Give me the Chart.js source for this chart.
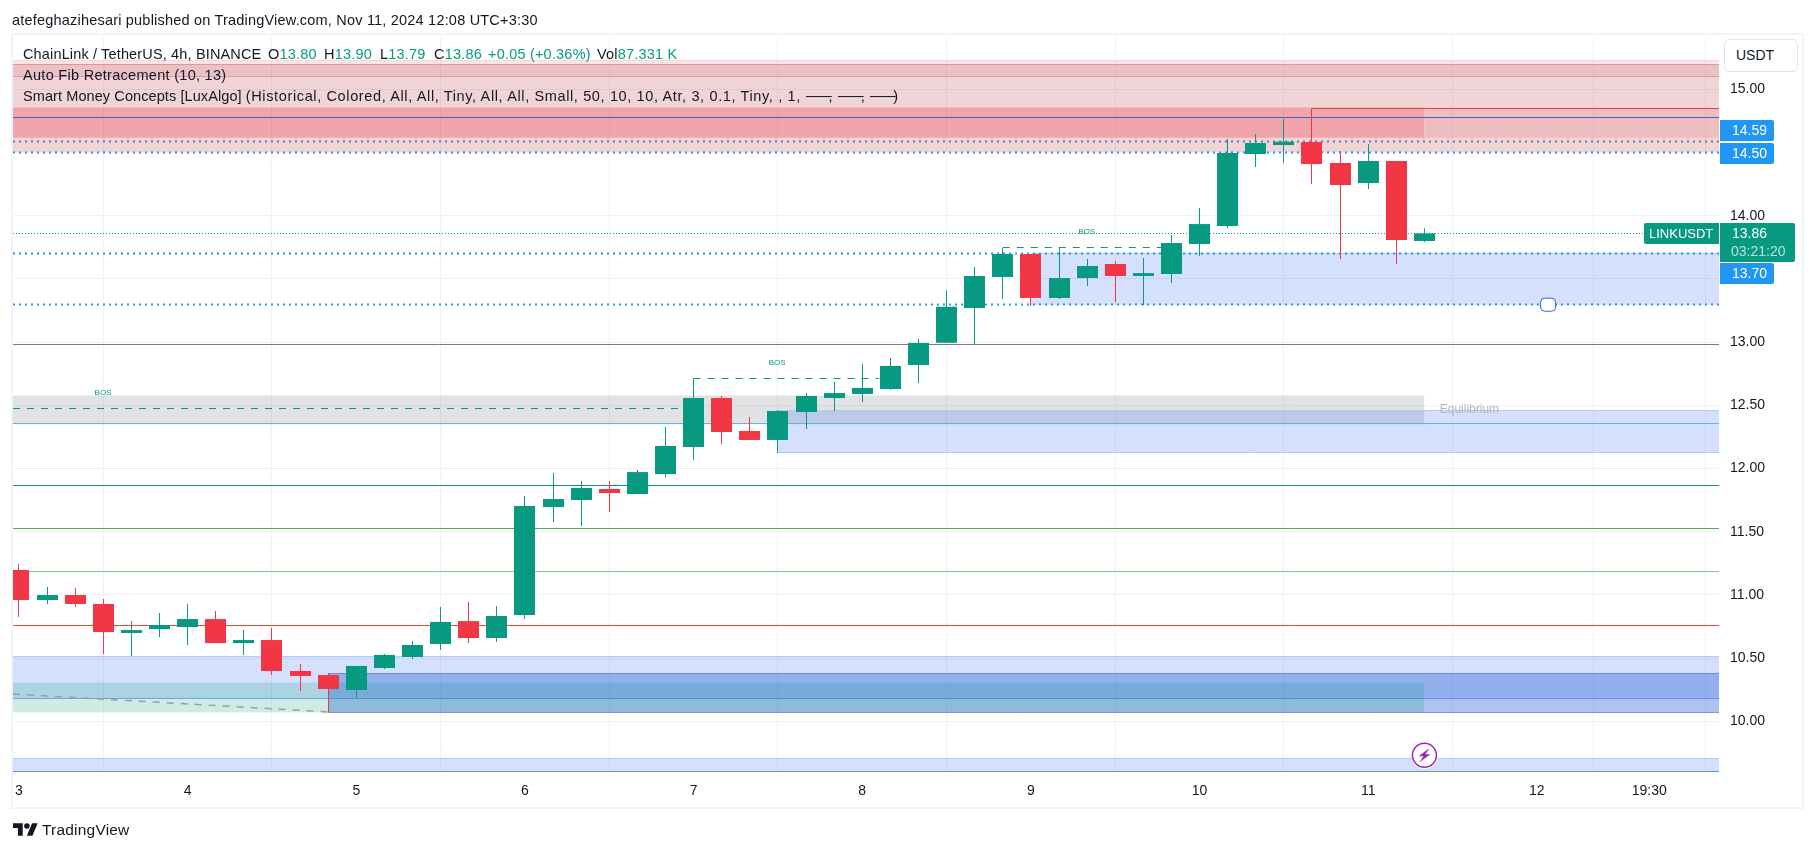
<!DOCTYPE html>
<html>
<head>
<meta charset="utf-8">
<title>LINKUSDT 4h</title>
<script src="https://cdn.jsdelivr.net/npm/chart.js@4/dist/chart.umd.min.js"></script>
<style>
    html, body { margin: 0; padding: 0; background: #fff; }
    body { width: 1814px; height: 851px; position: relative; overflow: hidden; font-family: "Liberation Sans", sans-serif; color: #131722; }
    #frame { position: absolute; left: 11px; top: 33px; width: 1789px; height: 772px; border: 2px solid #f0f3fa; }
    canvas { position: absolute; left: 0; top: 0; }
    .txt { position: absolute; white-space: nowrap; font-size: 14.5px; line-height: 16px; letter-spacing: 0.2px; }
    .wide { letter-spacing: 0.29px; }
    .name { letter-spacing: 0.09px; }
    .args { letter-spacing: 0.63px; }
    .rule { display: inline-block; width: 23px; letter-spacing: 0; transform: scaleX(1.25); transform-origin: left center; }
    .up { color: #089981; }
    #usdt { position: absolute; left: 1724px; top: 39px; width: 72px; height: 31px; border: 1px solid #e0e3eb; border-radius: 5px; background: #fff; font-size: 14px; line-height: 31px; text-indent: 11px; }
    #logo { position: absolute; left: 13px; top: 823px; }
</style>
</head>
<body>
<div id="frame"></div>
<canvas id="chart" width="1814" height="851"></canvas>
<div class="txt" style="left:12px;top:12px">atefeghazihesari published on TradingView.com, Nov 11, 2024 12:08 UTC+3:30</div>
<div class="txt" style="left:23px;top:46px;letter-spacing:0.15px">ChainLink / TetherUS, 4h, BINANCE</div>
<div class="txt" style="left:268px;top:46px">O<span class="up">13.80</span></div>
<div class="txt" style="left:324px;top:46px">H<span class="up">13.90</span></div>
<div class="txt" style="left:380px;top:46px">L<span class="up">13.79</span></div>
<div class="txt" style="left:434px;top:46px">C<span class="up">13.86</span></div>
<div class="txt up" style="left:488px;top:46px">+0.05 (+0.36%)</div>
<div class="txt" style="left:597px;top:46px">Vol<span class="up">87.331 K</span></div>
<div class="txt wide" style="left:23px;top:67px">Auto Fib Retracement (10, 13)</div>
<div class="txt" style="left:23px;top:88px"><span class="name">Smart Money Concepts [LuxAlgo] </span><span class="args">(Historical, Colored, All, All, Tiny, All, All, Small, 50, 10, 10, Atr, 3, 0.1, Tiny, , 1, <span class="rule">──</span>, <span class="rule">──</span>, <span class="rule">──</span>)</span></div>
<div id="usdt">USDT</div>
<svg id="logo" width="25" height="13" viewBox="0 4 36 18"><path fill="#131722" d="M14 22H7V11H0V4h14v18zM28 22h-8l7.5-18h8L28 22z"/><circle fill="#131722" cx="20" cy="8" r="4"/></svg>
<div class="txt" style="left:42px;top:822px;font-size:15.5px">TradingView</div>
<script>
// candles (index 0 = start of the 3rd, 6 candles a day)
const opens = [11.197, 10.960, 10.999, 10.928, 10.699, 10.730, 10.746, 10.809, 10.619, 10.643, 10.398, 10.366, 10.248, 10.422, 10.509, 10.612, 10.793, 10.659,
    10.841, 11.695, 11.751, 11.838, 11.798, 11.956, 12.170, 12.558, 12.297, 12.226, 12.447, 12.558, 12.590, 12.629, 12.819, 12.995, 13.270, 13.515, 13.697,
    13.349, 13.507, 13.618, 13.523, 13.539, 13.776, 13.918, 14.488, 14.559, 14.583, 14.417, 14.259, 14.433, 13.80];
const highs = [11.244, 11.062, 11.055, 10.968, 10.794, 10.857, 10.928, 10.873, 10.722, 10.738, 10.453, 10.380, 10.438, 10.532, 10.635, 10.904, 10.944, 10.912,
    11.782, 11.964, 11.901, 11.901, 11.988, 12.328, 12.713, 12.574, 12.407, 12.463, 12.597, 12.684, 12.827, 12.874, 13.025, 13.41, 13.594, 13.745, 13.697,
    13.745, 13.657, 13.642, 13.665, 13.847, 14.061, 14.607, 14.646, 14.765, 14.849, 14.512, 14.567, 14.433, 13.90];
const lows = [10.825, 10.928, 10.904, 10.532, 10.517, 10.667, 10.604, 10.619, 10.525, 10.366, 10.240, 10.071, 10.184, 10.414, 10.493, 10.564, 10.619, 10.627,
    10.809, 11.577, 11.545, 11.656, 11.798, 11.933, 12.067, 12.194, 12.226, 12.123, 12.313, 12.455, 12.526, 12.621, 12.677, 12.995, 12.985, 13.341, 13.286,
    13.341, 13.444, 13.317, 13.294, 13.468, 13.681, 13.903, 14.385, 14.417, 14.251, 13.657, 14.211, 13.618, 13.79];
const closes = [10.960, 10.999, 10.928, 10.706, 10.722, 10.762, 10.809, 10.619, 10.643, 10.398, 10.358, 10.256, 10.438, 10.525, 10.604, 10.786, 10.659, 10.833,
    11.703, 11.759, 11.846, 11.806, 11.972, 12.178, 12.558, 12.289, 12.226, 12.455, 12.574, 12.597, 12.637, 12.811, 12.993, 13.28, 13.523, 13.697, 13.349,
    13.507, 13.602, 13.523, 13.546, 13.784, 13.934, 14.496, 14.575, 14.586, 14.409, 14.243, 14.433, 13.808, 13.86];

// axes
const xMin = -0.213;
const xMax = 60.48;
const yMin = 9.599;
const yMax = 15.414;
const xTicks = [0, 6, 12, 18, 24, 30, 36, 42, 48, 54, 58];
const xTickLabels = ['3', '4', '5', '6', '7', '8', '9', '10', '11', '12', '19:30'];
const yTicks = [10, 10.5, 11, 11.5, 12, 12.5, 13, 13.5, 14, 14.5, 15];

// filled zones of the two indicators
const zoneStart = [xMin, xMin, xMin, xMin, 50, 36, xMin, 27, xMin, 11, xMin, xMin];
const zoneEnd = [xMax, xMax, xMax, 50, xMax, xMax, 50, xMax, xMax, xMax, 50, xMax];
const zoneTop = [15.226, 15.198, 15.100, 14.860, 14.850, 13.70, 12.58, 12.462, 10.511, 10.38, 10.311, 9.707];
const zoneBottom = [15.198, 15.100, 14.504, 14.617, 14.617, 13.296, 12.35, 12.128, 10.18, 10.07, 10.07, 9.604];

// horizontal levels, structure breaks and the trend line
const lineStart = [xMin, xMin, xMin, xMin, xMin, 46, xMin, xMin, xMin, xMin, xMin, xMin, xMin, 24, 35, xMin, xMin];
const lineEnd = [xMax, xMax, xMax, xMax, xMax, xMax, xMax, xMax, xMax, xMax, xMax, xMax, xMax, 30.6, 40.7, 23.8, 11];
const lineFrom = [13.70, 13.296, 14.59, 14.50, 14.778, 14.85, 13.86, 12.983, 12.358, 11.866, 11.527, 11.187, 10.76, 12.713, 13.75, 12.476, 10.216];
const lineTo = [13.70, 13.296, 14.59, 14.50, 14.778, 14.85, 13.86, 12.983, 12.358, 11.866, 11.527, 11.187, 10.76, 12.713, 13.75, 12.476, 10.074];

// small texts on the chart
const noteTexts = ['BOS', 'BOS', 'BOS', 'Equilibrium'];
const noteX = [26.97, 37.99, 2.99, 51.6];
const noteY = [12.835, 13.871, 12.60, 12.463];

// price tags on the right
const tagValues = [14.59, 14.50, 13.70];
const lastPrice = 13.86;
const symbolName = 'LINKUSDT';
const countdown = '03:21:20';
const eventIndex = 50;
const eventPrice = 9.731;
const markerIndex = 54.4;
const markerPrice = 13.296;

const BLUE_FILL = 'rgba(41, 98, 240, 0.2)';
const BLUE_EDGE = '#aecbfa';
const zoneStyles = [
    { fill: 'rgba(242, 54, 69, 0.13)', top: '#fbd5d5' },
    { fill: 'rgba(178, 30, 40, 0.27)', top: '#e0959a', bottom: '#e8a8ac' },
    { fill: 'rgba(178, 40, 51, 0.2)' },
    { fill: 'rgba(242, 54, 69, 0.3)' },
    { fill: 'rgba(220, 60, 70, 0.15)' },
    { fill: BLUE_FILL, top: BLUE_EDGE },
    { fill: 'rgba(120, 123, 134, 0.22)' },
    { fill: BLUE_FILL, top: BLUE_EDGE, bottom: BLUE_EDGE },
    { fill: BLUE_FILL, top: BLUE_EDGE, bottom: '#7fb0ec' },
    { fill: 'rgba(41, 98, 216, 0.38)', top: '#6a8fe0', bottom: '#8a94c0' },
    { fill: 'rgba(8, 153, 129, 0.2)' },
    { fill: BLUE_FILL, top: BLUE_EDGE, bottom: '#6a8fe0' }
];
const DOTS = [2, 4];
const DASHES = [7, 7];
const lineStyles = [
    { color: '#2196f3', width: 2, dash: DOTS },
    { color: '#2196f3', width: 2, dash: DOTS },
    { color: '#6078bd', width: 2, dash: DOTS },
    { color: '#2196f3', width: 2, dash: DOTS },
    { color: '#3f5fd6', width: 1 },
    { color: '#f23645', width: 1 },
    { color: '#089981', width: 1, dash: [1, 2] },
    { color: '#787b86', width: 1 },
    { color: '#6eaee0', width: 1 },
    { color: '#1a8a72', width: 1 },
    { color: '#4caf50', width: 1 },
    { color: '#81c784', width: 1 },
    { color: '#e8483c', width: 1 },
    { color: '#089981', width: 1, dash: DASHES },
    { color: '#089981', width: 1, dash: DASHES },
    { color: '#089981', width: 1, dash: DASHES },
    { color: '#9a9ea8', width: 1.5, dash: DASHES, free: true }
];

const UP = '#089981';
const DOWN = '#f23645';
const candleColors = closes.map((c, i) => c >= opens[i] ? UP : DOWN);

function flatLine(x0, x1, y0, y1, color, width, dash, order, free) {
    return {
        type: 'line',
        data: [{ x: x0, y: y0 }, { x: x1, y: y1 }],
        borderColor: color,
        borderWidth: width,
        borderDash: dash || [],
        pointRadius: 0,
        fill: false,
        order: order,
        snap: !free
    };
}

const datasets = [];

zoneTop.forEach((top, i) => {
    const style = zoneStyles[i];
    const order = 200 - i * 2;
    const zone = flatLine(zoneStart[i], zoneEnd[i], top, top, style.top || 'transparent', style.top ? 1 : 0, null, order, false);
    zone.fill = { value: zoneBottom[i] };
    zone.backgroundColor = style.fill;
    datasets.push(zone);
    if (style.bottom) {
        datasets.push(flatLine(zoneStart[i], zoneEnd[i], zoneBottom[i], zoneBottom[i], style.bottom, 1, null, order - 1, false));
    }
});

lineFrom.forEach((from, i) => {
    const style = lineStyles[i];
    datasets.push(flatLine(lineStart[i], lineEnd[i], from, lineTo[i], style.color, style.width, style.dash, 60 - i, style.free));
});

// wick and body share the same slot, so no grouping
datasets.push({
    type: 'bar',
    data: highs.map((h, i) => ({ x: i, y: [lows[i], h] })),
    backgroundColor: candleColors,
    barThickness: 1,
    grouped: false,
    inflateAmount: 0,
    order: 2
});
datasets.push({
    type: 'bar',
    data: opens.map((o, i) => ({ x: i, y: [o, closes[i]] })),
    backgroundColor: candleColors,
    barThickness: 21,
    grouped: false,
    inflateAmount: 0,
    order: 1
});

// keeps bars and level lines on whole pixels
const snapPlugin = {
    id: 'snap',
    afterDatasetsUpdate(chart) {
        chart.data.datasets.forEach((ds, i) => {
            const meta = chart.getDatasetMeta(i);
            meta.data.forEach(el => {
                if (ds.type === 'bar') {
                    el.x = Math.round(el.x - 0.5) + 0.5;
                } else if (ds.snap) {
                    el.y = Math.round(el.y - 0.5) + 0.5;
                }
            });
        });
    }
};

function drawTag(ctx, x, y, w, h, color, radius) {
    ctx.fillStyle = color;
    ctx.beginPath();
    ctx.roundRect(x, y, w, h, radius);
    ctx.fill();
}

const overlayPlugin = {
    id: 'overlay',
    afterDraw(chart) {
        const ctx = chart.ctx;
        const xs = chart.scales.x;
        const ys = chart.scales.y;
        const right = chart.chartArea.right;
        ctx.save();

        // BOS and equilibrium notes
        ctx.textAlign = 'center';
        ctx.textBaseline = 'middle';
        noteTexts.forEach((text, i) => {
            ctx.font = text === 'BOS' ? '8px "Liberation Sans"' : '12px "Liberation Sans"';
            ctx.fillStyle = text === 'BOS' ? UP : '#b2b5be';
            ctx.fillText(text, xs.getPixelForValue(noteX[i]), ys.getPixelForValue(noteY[i]));
        });

        // drag handle on the lower dotted level
        const mx = xs.getPixelForValue(markerIndex);
        const my = ys.getPixelForValue(markerPrice);
        ctx.fillStyle = '#fff';
        ctx.strokeStyle = '#2962ff';
        ctx.lineWidth = 1;
        ctx.beginPath();
        ctx.roundRect(mx - 7.5, my - 6.5, 15, 13, 4);
        ctx.fill();
        ctx.stroke();

        // lightning event mark
        const ex = xs.getPixelForValue(eventIndex);
        const ey = ys.getPixelForValue(eventPrice);
        ctx.fillStyle = '#fff';
        ctx.beginPath();
        ctx.arc(ex, ey, 13.5, 0, Math.PI * 2);
        ctx.fill();
        ctx.strokeStyle = '#9c27b0';
        ctx.lineWidth = 1.5;
        ctx.beginPath();
        ctx.arc(ex, ey, 12, 0, Math.PI * 2);
        ctx.stroke();
        ctx.fillStyle = '#9c27b0';
        ctx.beginPath();
        ctx.moveTo(ex + 5, ey - 7);
        ctx.lineTo(ex - 6, ey + 1);
        ctx.lineTo(ex - 1, ey + 1);
        ctx.lineTo(ex - 5, ey + 7);
        ctx.lineTo(ex + 6, ey - 1);
        ctx.lineTo(ex + 1, ey - 1);
        ctx.closePath();
        ctx.fill();

        // price tags
        ctx.font = '14px "Liberation Sans"';
        ctx.textAlign = 'left';
        const offsets = [-21, -10, 9];
        tagValues.forEach((value, i) => {
            const top = Math.round(ys.getPixelForValue(value)) + offsets[i];
            drawTag(ctx, right + 1, top, 54, 21, '#2196f3', [0, 2, 2, 0]);
            ctx.fillStyle = '#fff';
            ctx.fillText(value.toFixed(2), right + 13, top + 11);
        });

        const lastY = Math.round(ys.getPixelForValue(lastPrice));
        drawTag(ctx, right + 1, lastY - 10, 75, 39, UP, [0, 2, 2, 0]);
        ctx.fillStyle = '#fff';
        ctx.fillText(lastPrice.toFixed(2), right + 13, lastY + 1);
        ctx.fillStyle = 'rgba(255, 255, 255, 0.7)';
        ctx.fillText(countdown, right + 12, lastY + 19);
        drawTag(ctx, right - 75, lastY - 10, 75, 21, UP, [2, 0, 0, 2]);
        ctx.font = '13px "Liberation Sans"';
        ctx.fillStyle = '#fff';
        ctx.fillText(symbolName, right - 70, lastY + 1);
        ctx.restore();
    }
};

document.addEventListener('DOMContentLoaded', function() {
    new Chart(document.getElementById('chart').getContext('2d'), {
        type: 'bar',
        data: { datasets: datasets },
        plugins: [snapPlugin, overlayPlugin],
        options: {
            responsive: false,
            animation: false,
            events: [],
            layout: { padding: { left: 13, top: 37, right: 12, bottom: 44 } },
            plugins: { legend: { display: false }, tooltip: { enabled: false } },
            scales: {
                x: {
                    type: 'linear',
                    min: xMin,
                    max: xMax,
                    offset: false,
                    afterBuildTicks: axis => { axis.ticks = xTicks.map(v => ({ value: v })); },
                    afterFit: axis => { axis.height = 35; },
                    border: { display: false },
                    grid: { color: '#f0f1f5', drawTicks: false },
                    ticks: {
                        autoSkip: false,
                        maxRotation: 0,
                        padding: 11,
                        color: '#131722',
                        font: { family: '"Liberation Sans"', size: 14 },
                        callback: value => xTickLabels[xTicks.indexOf(value)]
                    }
                },
                y: {
                    type: 'linear',
                    position: 'right',
                    min: yMin,
                    max: yMax,
                    afterBuildTicks: axis => { axis.ticks = yTicks.map(v => ({ value: v })); },
                    afterFit: axis => { axis.width = 83; },
                    border: { display: false },
                    grid: { color: '#f0f1f5', drawTicks: false },
                    ticks: {
                        padding: 11,
                        color: '#131722',
                        font: { family: '"Liberation Sans"', size: 14 },
                        callback: value => value.toFixed(2)
                    }
                }
            }
        }
    });
});
</script>
</body>
</html>
